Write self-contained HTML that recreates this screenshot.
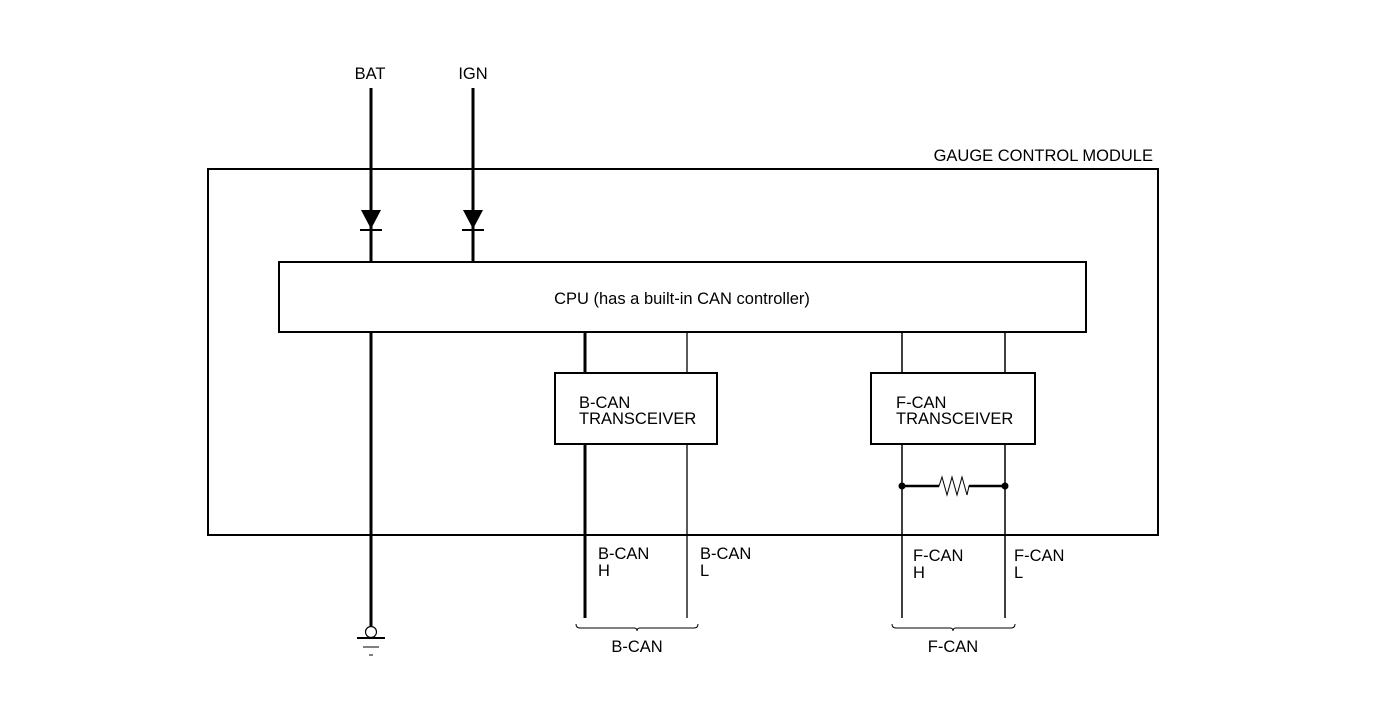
<!DOCTYPE html>
<html><head><meta charset="utf-8"><style>
html,body{margin:0;padding:0;background:#fff;}
svg{display:block;}
text{font-family:"Liberation Sans",Arial,sans-serif;font-size:16.5px;fill:#000;}
</style></head><body>
<svg width="1392" height="714" viewBox="0 0 1392 714" xmlns="http://www.w3.org/2000/svg">
<rect x="0" y="0" width="1392" height="714" fill="#fff"/>
<text x="370" y="79" text-anchor="middle">BAT</text>
<text x="473" y="79" text-anchor="middle">IGN</text>
<text x="1153" y="161" text-anchor="end">GAUGE CONTROL MODULE</text>
<rect x="208" y="169" width="950" height="366" fill="none" stroke="#000" stroke-width="2"/>
<rect x="279" y="262" width="807" height="70" fill="#fff" stroke="#000" stroke-width="2"/>
<text x="682" y="304" text-anchor="middle">CPU (has a built-in CAN controller)</text>
<line x1="371" y1="88" x2="371" y2="262" stroke="#000" stroke-width="3"/>
<line x1="371" y1="332" x2="371" y2="627" stroke="#000" stroke-width="3"/>
<line x1="473" y1="88" x2="473" y2="262" stroke="#000" stroke-width="3"/>
<polygon points="361,210 381,210 371,229" fill="#000"/>
<line x1="360" y1="230" x2="382" y2="230" stroke="#000" stroke-width="2"/>
<polygon points="463,210 483,210 473,229" fill="#000"/>
<line x1="462" y1="230" x2="484" y2="230" stroke="#000" stroke-width="2"/>
<circle cx="371" cy="632" r="5.5" fill="#fff" stroke="#000" stroke-width="1.2"/>
<line x1="357" y1="638" x2="385" y2="638" stroke="#000" stroke-width="2"/>
<line x1="363" y1="647" x2="379" y2="647" stroke="#000" stroke-width="1"/>
<line x1="369" y1="655" x2="373" y2="655" stroke="#000" stroke-width="1"/>
<rect x="555" y="373" width="162" height="71" fill="#fff" stroke="#000" stroke-width="2"/>
<text x="579" y="408">B-CAN</text>
<text x="579" y="424">TRANSCEIVER</text>
<line x1="585" y1="332" x2="585" y2="373" stroke="#000" stroke-width="3"/>
<line x1="585" y1="444" x2="585" y2="618" stroke="#000" stroke-width="3"/>
<line x1="687" y1="332" x2="687" y2="373" stroke="#000" stroke-width="1.3"/>
<line x1="687" y1="444" x2="687" y2="618" stroke="#000" stroke-width="1.3"/>
<text x="598" y="559">B-CAN</text><text x="598" y="576">H</text>
<text x="700" y="559">B-CAN</text><text x="700" y="576">L</text>
<path d="M576,624 Q576,628 580,628 L634,628 Q637,628 637,631 Q637,628 640,628 L694,628 Q698,628 698,624" fill="none" stroke="#000" stroke-width="1"/>
<text x="637" y="652" text-anchor="middle">B-CAN</text>
<rect x="871" y="373" width="164" height="71" fill="#fff" stroke="#000" stroke-width="2"/>
<text x="896" y="408">F-CAN</text>
<text x="896" y="424">TRANSCEIVER</text>
<line x1="902" y1="332" x2="902" y2="373" stroke="#000" stroke-width="1.5"/>
<line x1="902" y1="444" x2="902" y2="618" stroke="#000" stroke-width="1.5"/>
<line x1="1005" y1="332" x2="1005" y2="373" stroke="#000" stroke-width="1.5"/>
<line x1="1005" y1="444" x2="1005" y2="618" stroke="#000" stroke-width="1.5"/>
<circle cx="902" cy="486" r="3.5" fill="#000"/>
<circle cx="1005" cy="486" r="3.5" fill="#000"/>
<polyline points="902,486 939,486 942,477 947,495 952,477 957,495 962,477 967,495 969,486 1005,486" fill="none" stroke="#000" stroke-width="1"/>
<line x1="902" y1="486" x2="939" y2="486" stroke="#000" stroke-width="2.5"/>
<line x1="969" y1="486" x2="1005" y2="486" stroke="#000" stroke-width="2.5"/>
<text x="913" y="561">F-CAN</text><text x="913" y="578">H</text>
<text x="1014" y="561">F-CAN</text><text x="1014" y="578">L</text>
<path d="M892,624 Q892,628 896,628 L950,628 Q953,628 953,631 Q953,628 956,628 L1011,628 Q1015,628 1015,624" fill="none" stroke="#000" stroke-width="1"/>
<text x="953" y="652" text-anchor="middle">F-CAN</text>
</svg>
</body></html>
